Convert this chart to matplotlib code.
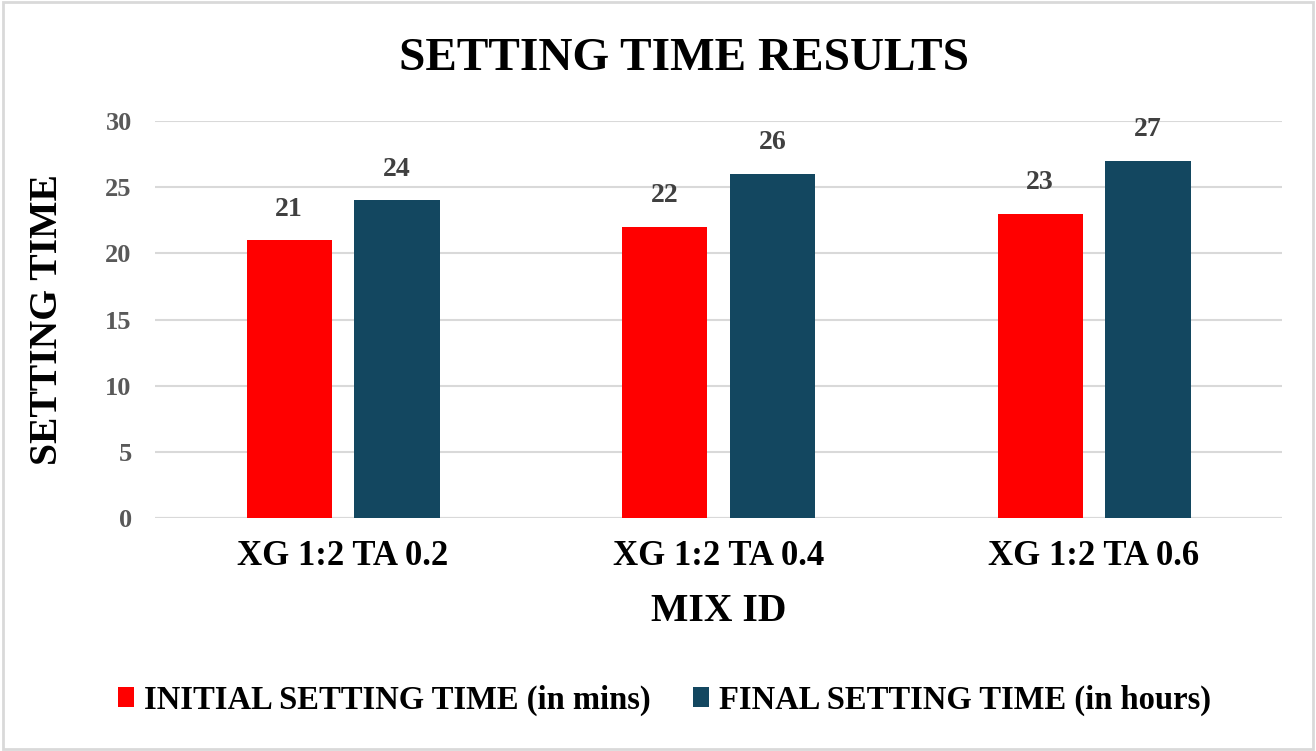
import numpy as np
import matplotlib
matplotlib.use('Agg')
import matplotlib.pyplot as plt
from matplotlib.patches import Rectangle

mixes = ['XG 1:2 TA 0.2', 'XG 1:2 TA 0.4', 'XG 1:2 TA 0.6']
initial = [21, 22, 23]
final = [24, 26, 27]
series_names = ['INITIAL SETTING TIME (in mins)', 'FINAL SETTING TIME (in hours)']
yticks = [0, 5, 10, 15, 20, 25, 30]

plt.rcParams['font.family'] = ['Liberation Serif', 'DejaVu Serif']
plt.rcParams['font.weight'] = 'bold'

fig = plt.figure(figsize=(13.16, 7.51), dpi=100)
ax = fig.add_axes([0.118, 0.310, 0.856, 0.529])

x = np.arange(len(mixes))
w = 0.227
off = w / 2 + 0.03
b1 = ax.bar(x - off, initial, w, color='#ff0000', label=series_names[0], zorder=3)
b2 = ax.bar(x + off, final, w, color='#134760', label=series_names[1], zorder=3)
for bars in (b1, b2):
    for r in bars:
        ax.text(r.get_x() + r.get_width() / 2, r.get_height() + 1.4, f'{r.get_height():.0f}',
                ha='center', va='bottom', fontsize=20, fontweight='bold', color='#404040')

ax.set_xlim(-0.5, 2.5)
ax.set_ylim(0, 30)
ax.set_yticks(yticks)
ax.set_xticks(x)
ax.set_xticklabels(mixes, fontsize=25, fontweight='bold', color='black')
ax.tick_params(axis='y', labelsize=19, labelcolor='#595959', length=0, pad=17)
ax.tick_params(axis='x', length=0, pad=16)
ax.yaxis.grid(True, color='#d9d9d9', lw=1.5, zorder=0)
for s in ax.spines.values():
    s.set_visible(False)
ax.axhline(0, color='#d9d9d9', lw=1.5, zorder=1)

ax.set_ylabel('SETTING TIME', fontsize=28.5, fontweight='bold', labelpad=28)
ax.set_xlabel('MIX ID', fontsize=28.5, fontweight='bold', labelpad=14)
fig.text(0.52, 0.921, 'SETTING TIME RESULTS', ha='center', va='center',
         fontsize=34, fontweight='bold')

fig.legend(loc='center', bbox_to_anchor=(0.505, 0.068), ncol=2, frameon=False,
           prop={'size': 23.5, 'weight': 'bold'}, handlelength=0.5, handleheight=0.55,
           handletextpad=0.3, columnspacing=1.3)

fig.patches.append(Rectangle((0.002, 0.003), 0.996, 0.994, transform=fig.transFigure,
                             fill=False, edgecolor='#d9d9d9', lw=2))

fig.savefig('out.png', dpi=100)
